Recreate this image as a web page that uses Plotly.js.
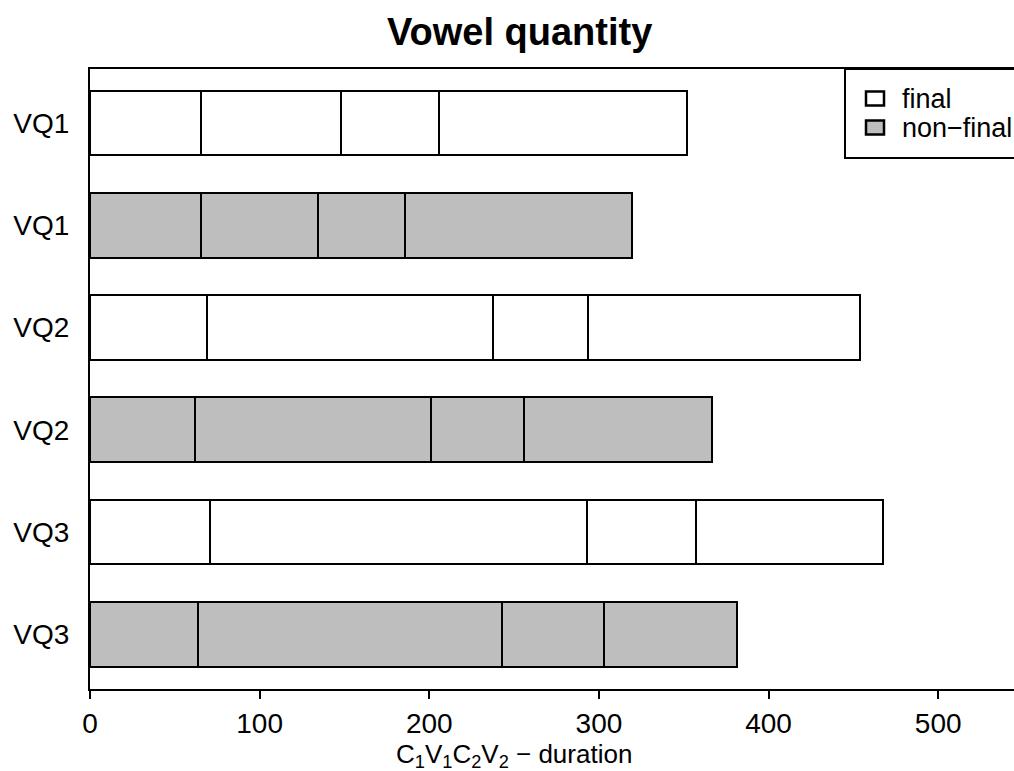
<!DOCTYPE html>
<html>
<head>
<meta charset="utf-8">
<script src="https://cdn.plot.ly/plotly-3.0.1.min.js"></script>
<style>
html, body { margin: 0; padding: 0; overflow: hidden; background: #fff; }
#chart { width: 1040px; height: 771px; }
</style>
</head>
<body>
<div id="chart"></div>
<script>
// ---- data (top row first) ----
const rowLabels = ['VQ1', 'VQ1', 'VQ2', 'VQ2', 'VQ3', 'VQ3'];
const rowGroup = ['final', 'non\u2212final', 'final', 'non\u2212final', 'final', 'non\u2212final'];
const C1 = [65.4, 65.4, 68.9, 61.7, 70.7, 63.4];
const V1 = [82.7, 69.1, 168.4, 139.4, 222.2, 179.6];
const C2 = [57.9, 50.9, 56.5, 54.6, 64.2, 59.9];
const V2 = [146.1, 134.3, 160.1, 111.2, 110.6, 78.4];
const segmentNames = ['C1', 'V1', 'C2', 'V2'];
const xTicks = [0, 100, 200, 300, 400, 500];
const legendLabels = ['final', 'non\u2212final'];

// ---- styling ----
const FONT = 'Liberation Sans, Arial, Helvetica, sans-serif';
const groupColor = { 'final': '#FFFFFF', 'non\u2212final': '#BEBEBE' };
const W = 1040, H = 771;
const M = { l: 90, r: 0, t: 69, b: 82 };
const plotW = W - M.l - M.r, plotH = H - M.t - M.b;
const px2paperX = p => (p - M.l) / plotW;
const px2paperY = p => (H - M.b - p) / plotH;

const yPos = rowLabels.map((_, i) => rowLabels.length - 1 - i);
const colors = rowGroup.map(g => groupColor[g]);

const segs = [C1, V1, C2, V2];
const traces = segs.map((vals, k) => ({
  type: 'bar',
  orientation: 'h',
  name: segmentNames[k],
  x: vals,
  y: yPos,
  width: 0.634,
  marker: { color: colors, line: { color: '#000', width: 2 } },
  showlegend: false,
  hoverinfo: 'skip'
}));

// legend drawn by hand (R-style)
const shapes = [{
  type: 'rect', xref: 'paper', yref: 'paper',
  x0: px2paperX(845), x1: px2paperX(1060), y0: px2paperY(158), y1: px2paperY(69),
  line: { color: '#000', width: 2 }, fillcolor: '#fff', layer: 'above'
}];
const annotations = [];
legendLabels.forEach((lab, i) => {
  const cy = 98.5 + i * 29;
  shapes.push({
    type: 'rect', xref: 'paper', yref: 'paper',
    x0: px2paperX(866), x1: px2paperX(884), y0: px2paperY(cy + 7), y1: px2paperY(cy - 7),
    line: { color: '#000', width: 2.5 }, fillcolor: groupColor[lab], layer: 'above'
  });
  annotations.push({
    xref: 'paper', yref: 'paper', x: px2paperX(900), y: px2paperY(cy),
    xanchor: 'left', yanchor: 'middle', showarrow: false, text: lab,
    font: { family: FONT, size: 27, color: '#000' }
  });
});
// title and x label centred over 0..500
annotations.push({
  xref: 'x', yref: 'paper', x: 253, y: px2paperY(32), xanchor: 'center', yanchor: 'middle',
  showarrow: false, text: '<b>Vowel quantity</b>',
  font: { family: FONT, size: 38, color: '#000' }
});
annotations.push({
  xref: 'x', yref: 'paper', x: 250, y: px2paperY(755), xanchor: 'center', yanchor: 'middle',
  showarrow: false, text: 'C<sub>1</sub>V<sub>1</sub>C<sub>2</sub>V<sub>2</sub> \u2212 duration',
  font: { family: FONT, size: 26, color: '#000' }
});

const layout = {
  width: W, height: H,
  margin: M,
  paper_bgcolor: '#fff', plot_bgcolor: '#fff',
  barmode: 'stack',
  bargap: 0,
  showlegend: false,
  xaxis: {
    range: [0, 560], showgrid: false, zeroline: false,
    showline: true, mirror: true, linecolor: '#000', linewidth: 2,
    ticks: 'outside', ticklen: 8, tickwidth: 2, tickcolor: '#000',
    tickmode: 'array', tickvals: xTicks, ticktext: xTicks.map(String),
    tickfont: { family: FONT, size: 28, color: '#000' },
    fixedrange: true
  },
  yaxis: {
    range: [-0.536, 5.528], showgrid: false, zeroline: false,
    showline: true, mirror: true, linecolor: '#000', linewidth: 2,
    ticks: '', tickmode: 'array', tickvals: yPos, ticktext: rowLabels,
    ticklabelstandoff: 13,
    tickfont: { family: FONT, size: 28, color: '#000' },
    fixedrange: true
  },
  shapes: shapes,
  annotations: annotations
};

Plotly.newPlot('chart', traces, layout, { displayModeBar: false, staticPlot: true });
</script>
</body>
</html>
